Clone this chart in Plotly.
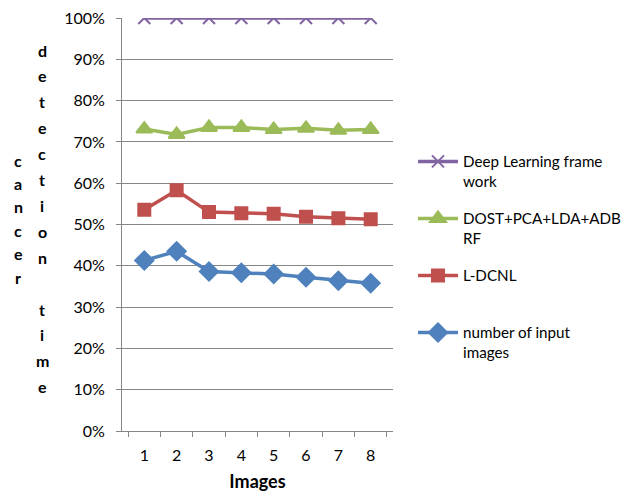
import plotly.graph_objects as go

categories = ["1", "2", "3", "4", "5", "6", "7", "8"]
deep_learning = [1.0, 1.0, 1.0, 1.0, 1.0, 1.0, 1.0, 1.0]
dost = [0.731, 0.718, 0.735, 0.735, 0.730, 0.733, 0.728, 0.730]
ldcnl = [0.536, 0.583, 0.530, 0.527, 0.526, 0.519, 0.515, 0.513]
num_input = [0.413, 0.435, 0.386, 0.383, 0.380, 0.372, 0.364, 0.358]

names = ["Deep Learning frame<br>work", "DOST+PCA+LDA+ADB<br>RF", "L-DCNL<br> ", "number of input<br>images"]
colors = ["#8064A2", "#9BBB59", "#C0504D", "#4F81BD"]
symbols = ["x-thin-open", "triangle-up", "square", "diamond"]
sizes = [12, 14, 12, 14]
series = [deep_learning, dost, ldcnl, num_input]

FONT = "Lato"
OFF = 8  # page body margin offset
W, H = 630 - OFF, 494 - OFF
L, T = 122 - OFF, 18 - OFF
R = W - (393 - OFF)
B = H - (431 - OFF)
PW, PH = W - L - R, H - T - B


def px(x):
    return (x - OFF - L) / PW


def py(y):
    return (H - B - (y - OFF)) / PH


fig = go.Figure()
for i, (nm, col, sym, sz, ys) in enumerate(zip(names, colors, symbols, sizes, series)):
    fig.add_trace(go.Scatter(
        x=categories, y=ys, name=nm, mode="lines+markers", legendgroup=str(i),
        line=dict(color=col, width=3.5),
        marker=dict(symbol=sym, size=sz, color=col, line=dict(color=col, width=2)),
    ))

fig.update_layout(
    width=W, height=H,
    margin=dict(l=L, r=R, t=T, b=B, autoexpand=False),
    paper_bgcolor="white", plot_bgcolor="white",
    font=dict(family=FONT, size=15, color="#000000"),
    showlegend=True,
    legend=dict(x=px(413), y=py(145), xanchor="left", yanchor="top", valign="top",
                tracegroupgap=14.5, font=dict(family=FONT, size=15.2), itemwidth=40,
                bgcolor="rgba(0,0,0,0)"),
    xaxis=dict(type="category", showgrid=False, showline=True, linecolor="#868686", linewidth=1,
               ticks="outside", tickson="boundaries", ticklen=5, tickcolor="#868686",
               tickfont=dict(family=FONT, size=16), automargin=False, ticklabelstandoff=10,
               title=dict(text="<b>Images</b>", font=dict(family=FONT, size=18), standoff=12)),
    yaxis=dict(range=[0, 1], dtick=0.1, tickformat=".0%", showgrid=True, gridcolor="#868686",
               gridwidth=1, showline=True, linecolor="#868686", linewidth=1,
               ticks="outside", ticklen=5, tickcolor="#868686", zeroline=False,
               tickfont=dict(family=FONT, size=16), automargin=False, ticklabelstandoff=8,
               ticklabeloverflow="allow"),
)

# vertical stacked y-axis title letters
left_col = list("cancer")
right_col = list("detection") + [""] + list("time")
for i, ch in enumerate(left_col):
    fig.add_annotation(text="<b>%s</b>" % ch, xref="paper", yref="paper", showarrow=False,
                       x=px(18), y=py(160 + 23.4 * i),
                       xanchor="center", yanchor="middle", font=dict(family=FONT, size=16))
for i, ch in enumerate(right_col):
    if not ch:
        continue
    fig.add_annotation(text="<b>%s</b>" % ch, xref="paper", yref="paper", showarrow=False,
                       x=px(42), y=py(50 + 25.9 * i),
                       xanchor="center", yanchor="middle", font=dict(family=FONT, size=16))

fig.write_html("out.html")
